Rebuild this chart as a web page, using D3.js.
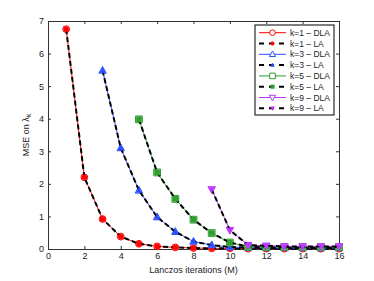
<!DOCTYPE html>
<html>
<head>
<meta charset="utf-8">
<script src="https://cdn.jsdelivr.net/npm/d3@7"></script>
<style>
  body { margin: 0; background: #fff; }
  text { font-family: "Liberation Sans", Arial, sans-serif; fill: #222; }
</style>
</head>
<body>
<script>
// values
const xTicks = [0, 2, 4, 6, 8, 10, 12, 14, 16];
const yTicks = [0, 1, 2, 3, 4, 5, 6, 7];

const itersK1 = [1, 2, 3, 4, 5, 6, 7, 8, 9, 10, 11, 12, 13, 14, 15, 16];
const mseK1 = [6.75, 2.2, 0.92, 0.38, 0.16, 0.08, 0.05, 0.03, 0.02, 0.02, 0.01, 0.01, 0.01, 0.01, 0.01, 0.01];

const itersK3 = [3, 4, 5, 6, 7, 8, 9, 10, 11, 12, 13, 14, 15, 16];
const mseK3 = [5.48, 3.1, 1.8, 0.98, 0.53, 0.23, 0.12, 0.06, 0.04, 0.03, 0.03, 0.03, 0.03, 0.03];

const itersK5 = [5, 6, 7, 8, 9, 10, 11, 12, 13, 14, 15, 16];
const mseK5 = [3.98, 2.35, 1.54, 0.9, 0.49, 0.2, 0.07, 0.06, 0.06, 0.06, 0.06, 0.06];

const itersK9 = [9, 10, 11, 12, 13, 14, 15, 16];
const mseK9 = [1.83, 0.58, 0.12, 0.1, 0.08, 0.08, 0.08, 0.08];

const series = [
  { k: 1, x: itersK1, y: mseK1, color: '#ff0000', shape: 'circle' },
  { k: 3, x: itersK3, y: mseK3, color: '#2a4fff', shape: 'triUp' },
  { k: 5, x: itersK5, y: mseK5, color: '#2e9e2e', shape: 'square' },
  { k: 9, x: itersK9, y: mseK9, color: '#bb33ff', shape: 'triDown' }
];

const W = 374, H = 281;
const margin = { top: 21, right: 35, bottom: 32, left: 48 };
const width = W - margin.left - margin.right;
const height = H - margin.top - margin.bottom;

const svg = d3.select('body').append('svg')
  .attr('width', W)
  .attr('height', H);

const g = svg.append('g')
  .attr('transform', `translate(${margin.left},${margin.top})`);

const x = d3.scaleLinear().domain([0, 16]).range([0, width]);
const y = d3.scaleLinear().domain([0, 7]).range([height, 0]);

// axes box with inward ticks on all four sides
const axisStyle = sel => {
  sel.select('.domain').attr('stroke', '#333');
  sel.selectAll('.tick line').attr('stroke', '#333');
  sel.selectAll('.tick text').style('font-size', '9px').attr('fill', '#222');
};

g.append('g')
  .attr('transform', `translate(0,${height})`)
  .call(d3.axisBottom(x).tickValues(xTicks).tickFormat(d3.format('d')).tickSizeInner(-3).tickSizeOuter(0).tickPadding(4))
  .call(axisStyle);
g.append('g')
  .call(d3.axisLeft(y).tickValues(yTicks).tickFormat(d3.format('d')).tickSizeInner(-3).tickSizeOuter(0).tickPadding(4))
  .call(axisStyle);
g.append('g')
  .call(d3.axisTop(x).tickValues(xTicks).tickSizeInner(-3).tickSizeOuter(0).tickFormat(''))
  .call(axisStyle);
g.append('g')
  .attr('transform', `translate(${width},0)`)
  .call(d3.axisRight(y).tickValues(yTicks).tickSizeInner(-3).tickSizeOuter(0).tickFormat(''))
  .call(axisStyle);

// marker paths
function markerPath(shape, s) {
  if (shape === 'circle') return d3.symbol(d3.symbolCircle, s * s * Math.PI)();
  if (shape === 'square') return `M${-s},${-s}H${s}V${s}H${-s}Z`;
  if (shape === 'triUp') return `M0,${-s * 1.2}L${s * 1.1},${s * 0.8}L${-s * 1.1},${s * 0.8}Z`;
  return `M0,${s * 1.2}L${s * 1.1},${-s * 0.8}L${-s * 1.1},${-s * 0.8}Z`;
}

const line = d3.line().x(d => x(d[0])).y(d => y(d[1]));

const plot = g.append('g');
series.forEach(s => {
  const pts = s.x.map((v, i) => [v, s.y[i]]);
  // DLA: coloured solid line, open markers
  plot.append('path')
    .datum(pts)
    .attr('d', line)
    .attr('fill', 'none')
    .attr('stroke', s.color)
    .attr('stroke-width', 1);
  plot.selectAll(null)
    .data(pts)
    .enter().append('path')
    .attr('d', markerPath(s.shape, 3.4))
    .attr('transform', d => `translate(${x(d[0])},${y(d[1])})`)
    .attr('fill', '#fff')
    .attr('stroke', s.color)
    .attr('stroke-width', 1);
  // LA: black dashed line, filled markers
  plot.append('path')
    .datum(pts)
    .attr('d', line)
    .attr('fill', 'none')
    .attr('stroke', '#000')
    .attr('stroke-width', 2)
    .attr('stroke-dasharray', '5,3');
  plot.selectAll(null)
    .data(pts)
    .enter().append('path')
    .attr('d', markerPath(s.shape, 2.7))
    .attr('transform', d => `translate(${x(d[0])},${y(d[1])})`)
    .attr('fill', s.color)
    .attr('stroke', s.color)
    .attr('stroke-width', 0.5);
});

// axis labels
svg.append('text')
  .attr('x', margin.left + width / 2)
  .attr('y', 273)
  .attr('text-anchor', 'middle')
  .style('font-size', '9px')
  .text('Lanczos iterations (M)');

const yl = svg.append('text')
  .attr('transform', `translate(29,${margin.top + height / 2}) rotate(-90)`)
  .attr('text-anchor', 'middle')
  .style('font-size', '9px');
yl.append('tspan').text('MSE on λ');
yl.append('tspan').attr('dy', 2).style('font-size', '7px').text('k');

// legend
const legendItems = [];
series.forEach(s => {
  legendItems.push({ label: `k=${s.k} – DLA`, s, type: 'DLA' });
  legendItems.push({ label: `k=${s.k} – LA`, s, type: 'LA' });
});

const lg = svg.append('g').attr('transform', 'translate(255,25)');
lg.append('rect')
  .attr('width', 79).attr('height', 90)
  .attr('fill', '#fff').attr('stroke', '#000').attr('stroke-width', 1);

const rowH = 10.8;
legendItems.forEach((it, i) => {
  const cy = 7.7 + i * rowH;
  const row = lg.append('g').attr('transform', `translate(0,${cy})`);
  if (it.type === 'DLA') {
    row.append('line').attr('x1', 4).attr('x2', 31).attr('stroke', it.s.color).attr('stroke-width', 1);
    row.append('path').attr('d', markerPath(it.s.shape, 2.8))
      .attr('transform', 'translate(17.5,0)')
      .attr('fill', '#fff').attr('stroke', it.s.color).attr('stroke-width', 1);
  } else {
    row.append('line').attr('x1', 4).attr('x2', 31).attr('stroke', '#000')
      .attr('stroke-width', 2).attr('stroke-dasharray', '5,5');
    row.append('path').attr('d', markerPath(it.s.shape, 1.8))
      .attr('transform', 'translate(17.5,0)')
      .attr('fill', it.s.color).attr('stroke', it.s.color).attr('stroke-width', 0.5);
  }
  row.append('text')
    .attr('x', 35).attr('y', 3)
    .style('font-size', '8.5px')
    .text(it.label);
});
</script>
</body>
</html>
